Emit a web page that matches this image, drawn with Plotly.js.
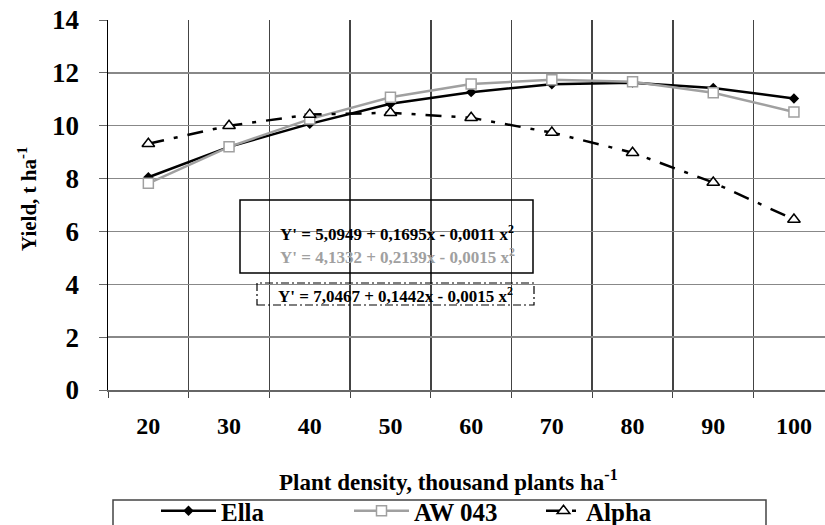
<!DOCTYPE html>
<html>
<head>
<meta charset="utf-8">
<script src="https://cdn.plot.ly/plotly-3.0.1.min.js"></script>
<style>html,body{margin:0;padding:0;background:#fff;overflow:hidden;}#chart{width:825px;height:560px;}</style>
</head>
<body>
<div id="chart"></div>
<script>
// ---- data ----
var density = [20, 30, 40, 50, 60, 70, 80, 90, 100];
var ella    = [8.05, 9.2, 10.07, 10.83, 11.27, 11.57, 11.63, 11.43, 11.03];
var aw043   = [7.82, 9.2, 10.25, 11.08, 11.58, 11.74, 11.66, 11.25, 10.52];
var alpha   = [9.32, 10.0, 10.42, 10.49, 10.3, 9.74, 8.98, 7.85, 6.45];
var yTicks  = [0, 2, 4, 6, 8, 10, 12, 14];
var eqElla  = "Y' = 5,0949 + 0,1695x - 0,0011 x<sup>2</sup>";
var eqAW    = "Y' = 4,1332 + 0,2139x - 0,0015 x<sup>2</sup>";
var eqAlpha = "Y' = 7,0467 + 0,1442x - 0,0015 x<sup>2</sup>";

var FONT = "'Liberation Serif', 'Times New Roman', serif";
var W = 825, H = 560, L = 108, R = 0, T = 20, B = 170;
var pw = W - L - R, ph = H - T - B;
function px(x) { return (x - L) / pw; }
function py(y) { return (H - B - y) / ph; }

var traces = [
  {x: density, y: ella, name: 'Ella', type: 'scatter', mode: 'lines+markers', legend: 'legend',
   line: {color: '#000', width: 2.5},
   marker: {symbol: 'diamond', size: 8, color: '#000'}},
  {x: density, y: aw043, name: 'AW 043', type: 'scatter', mode: 'lines+markers', legend: 'legend2',
   line: {color: '#a0a0a0', width: 2.5},
   marker: {symbol: 'square', size: 10, color: '#fff', line: {color: '#a0a0a0', width: 1.5}}},
  {x: density, y: alpha, name: 'Alpha', type: 'scatter', mode: 'lines+markers', legend: 'legend3',
   line: {color: '#000', width: 2.5, dash: '16px,10px,4px,10px'},
   marker: {symbol: 'triangle-up', size: 11, color: '#fff', line: {color: '#000', width: 1.5}}}
];

function leg(xpix, iw) {
  return {orientation: 'h', x: px(xpix), y: py(511), xanchor: 'left', yanchor: 'middle',
          bgcolor: 'rgba(0,0,0,0)', borderwidth: 0, itemwidth: iw,
          font: {family: FONT, size: 25, color: '#000', weight: 'bold'}};
}

var layout = {
  width: W, height: H,
  margin: {l: L, r: R, t: T, b: B},
  paper_bgcolor: '#fff', plot_bgcolor: '#fff',
  font: {family: FONT, color: '#000'},
  showlegend: true,
  legend: leg(156, 55),
  legend2: leg(349, 55),
  legend3: leg(541, 35),
  xaxis: {
    range: [15, 15 + (W - L) / 8.07],
    tickvals: density, ticktext: density.map(String),
    showgrid: false, ticks: '', zeroline: false,
    showline: true, linecolor: '#666', linewidth: 1.5,
    ticklabelstandoff: 14,
    tickfont: {family: FONT, size: 24, color: '#000', weight: 'bold'},
    minor: {tick0: 15, dtick: 10, showgrid: true, gridcolor: '#444', gridwidth: 1.5,
            ticks: 'outside', ticklen: 6, tickcolor: '#444'}
  },
  yaxis: {
    range: [0, 14], tickvals: yTicks,
    showgrid: true, gridcolor: '#888', gridwidth: 1.5,
    zeroline: false,
    showline: true, linecolor: '#000', linewidth: 1.5,
    ticks: 'outside', ticklen: 8, tickcolor: '#666',
    ticklabelstandoff: 14,
    tickfont: {family: FONT, size: 27, color: '#000', weight: 'bold'}
  },
  shapes: [
    {type: 'rect', xref: 'paper', yref: 'paper', x0: px(240), x1: px(533), y0: py(273), y1: py(200),
     line: {color: '#000', width: 1.5}, fillcolor: 'rgba(255,255,255,0)', layer: 'above'},
    {type: 'rect', xref: 'paper', yref: 'paper', x0: px(257), x1: px(534), y0: py(305), y1: py(283),
     line: {color: '#000', width: 1.2, dash: '8px,3px,2px,3px'}, fillcolor: 'rgba(255,255,255,0)', layer: 'above'},
    {type: 'rect', xref: 'paper', yref: 'paper', x0: px(113), x1: px(766), y0: py(550), y1: py(500),
     line: {color: '#444', width: 1.5}, fillcolor: 'rgba(255,255,255,0)'}
  ],
  annotations: [
    {text: eqElla, xref: 'paper', yref: 'paper', x: px(397), y: py(233), showarrow: false,
     xanchor: 'center', yanchor: 'middle', font: {family: FONT, size: 17, color: '#000', weight: 'bold'}},
    {text: eqAW, xref: 'paper', yref: 'paper', x: px(397), y: py(256), showarrow: false,
     xanchor: 'center', yanchor: 'middle', font: {family: FONT, size: 17, color: '#a0a0a0', weight: 'bold'}},
    {text: eqAlpha, xref: 'paper', yref: 'paper', x: px(395), y: py(295), showarrow: false,
     xanchor: 'center', yanchor: 'middle', font: {family: FONT, size: 17, color: '#000', weight: 'bold'}},
    {text: 'Plant density, thousand plants ha<sup>-1</sup>', xref: 'paper', yref: 'paper',
     x: px(448), y: py(480), showarrow: false, xanchor: 'center', yanchor: 'middle',
     font: {family: FONT, size: 23, color: '#000', weight: 'bold'}},
    {text: 'Yield, t ha<sup>-1</sup>', xref: 'paper', yref: 'paper', textangle: -90,
     x: px(27), y: py(199), showarrow: false, xanchor: 'center', yanchor: 'middle',
     font: {family: FONT, size: 21, color: '#000', weight: 'bold'}}
  ]
};

Plotly.newPlot('chart', traces, layout, {staticPlot: true, displayModeBar: false});
</script>
</body>
</html>
